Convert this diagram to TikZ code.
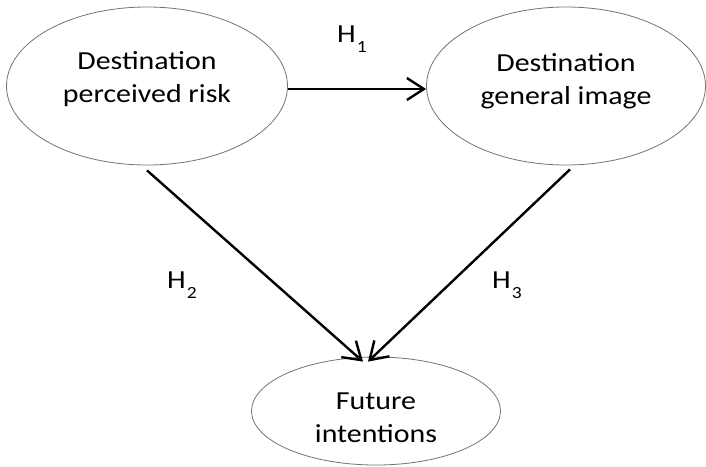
\documentclass[tikz,border=0pt]{standalone}
\usepackage{fontspec}
\setmainfont{Carlito}[FakeStretch=1.15]
\usetikzlibrary{shapes.geometric,arrows.meta}
\tikzset{
  oval/.style={ellipse, draw=black!55, line width=0.8pt, inner sep=0pt},
  lbl/.style={align=center, font=\fontsize{26}{33}\selectfont, inner sep=0pt},
  hyp/.style={anchor=base west, font=\fontsize{26}{30}\selectfont, inner sep=0pt},
  arr/.style={line width=2.4pt, -{Straight Barb[length=17pt, width=22pt, line width=2.4pt]}},
}
\newcommand{\hsub}[1]{H\kern1pt\raisebox{-0.42em}{\fontsize{17}{17}\selectfont #1}}
\begin{document}
\begin{tikzpicture}[x=1pt,y=-1pt]
\useasboundingbox (0,0) rectangle (706,466);
\node[oval, minimum width=281pt, minimum height=158pt] (risk) at (147,86) {};
\node[oval, minimum width=279pt, minimum height=158pt] (image) at (566,86) {};
\node[oval, minimum width=249pt, minimum height=108pt] (future) at (376,411) {};
\node[lbl] (tRisk) at (147,79) {Destination\\perceived risk};
\node[lbl] (tImage) at (566,81) {Destination\\general image};
\node[lbl] (tFuture) at (376,418) {Future\\intentions};
\node[hyp] (h1) at (337,42) {\hsub{1}};
\node[hyp] (h2) at (167,288) {\hsub{2}};
\node[hyp] (h3) at (492,288) {\hsub{3}};
\draw[arr] ([yshift=-3pt]risk.east) -- ([yshift=-3pt]image.west);
\draw[arr] ([yshift=-5pt]risk.south) -- ([xshift=-13pt,yshift=-5pt]future.north);
\draw[arr] ([xshift=4pt,yshift=-4pt]image.south) -- ([xshift=-8pt,yshift=-5pt]future.north);
\end{tikzpicture}
\end{document}
